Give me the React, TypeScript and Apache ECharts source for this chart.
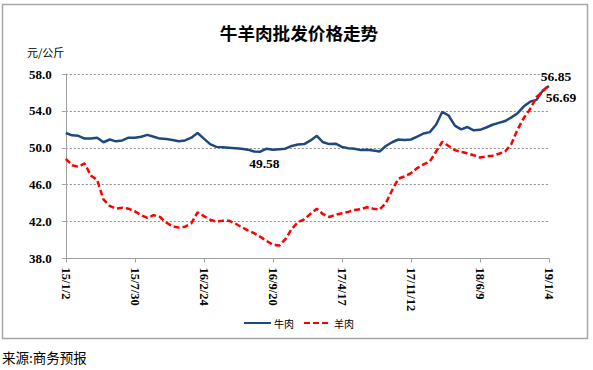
import React, { useEffect, useRef } from "react";
import * as echarts from "echarts";

const categories = [
  "15/1/2", "15/1/21", "15/2/9", "15/2/28", "15/3/19", "15/4/7", "15/4/26", "15/5/15", "15/6/3", "15/6/22", "15/7/11",
  "15/7/30", "15/8/18", "15/9/6", "15/9/25", "15/10/14", "15/11/2", "15/11/21", "15/12/10", "15/12/29", "16/1/17", "16/2/5",
  "16/2/24", "16/3/14", "16/4/2", "16/4/21", "16/5/10", "16/5/29", "16/6/17", "16/7/6", "16/7/25", "16/8/13", "16/9/1",
  "16/9/20", "16/10/9", "16/10/28", "16/11/16", "16/12/5", "16/12/24", "17/1/12", "17/1/31", "17/2/19", "17/3/10", "17/3/29",
  "17/4/17", "17/5/6", "17/5/25", "17/6/13", "17/7/2", "17/7/21", "17/8/9", "17/8/28", "17/9/16", "17/10/5", "17/10/24",
  "17/11/12", "17/12/1", "17/12/20", "18/1/8", "18/1/27", "18/2/15", "18/3/6", "18/3/25", "18/4/13", "18/5/2", "18/5/21",
  "18/6/9", "18/6/28", "18/7/17", "18/8/5", "18/8/24", "18/9/12", "18/10/1", "18/10/20", "18/11/8", "18/11/27", "18/12/16",
  "19/1/4",
];

const beef = [
  51.6, 51.35, 51.3, 51.0, 51.0, 51.1, 50.6, 50.9, 50.7, 50.8, 51.1,
  51.1, 51.2, 51.4, 51.2, 51.0, 50.95, 50.85, 50.7, 50.8, 51.1, 51.6,
  51.0, 50.4, 50.1, 50.05, 50.0, 49.95, 49.9, 49.8, 49.6, 49.58, 49.9,
  49.8, 49.85, 49.9, 50.2, 50.35, 50.4, 50.8, 51.3, 50.6, 50.4, 50.45,
  50.1, 49.95, 49.9, 49.75, 49.8, 49.7, 49.6, 50.2, 50.6, 50.9, 50.85,
  50.9, 51.2, 51.55, 51.7, 52.5, 53.9, 53.5, 52.4, 52.0, 52.25, 51.9,
  51.95, 52.2, 52.5, 52.7, 52.9, 53.3, 53.75, 54.5, 55.0, 55.2, 56.2,
  56.69,
];

const mutton = [
  48.8, 48.1, 47.95, 48.3, 47.0, 46.5, 44.4, 43.7, 43.4, 43.5, 43.4,
  43.1, 42.7, 42.4, 42.7, 42.5, 41.9, 41.5, 41.35, 41.45, 41.8, 43.0,
  42.6, 42.2, 42.0, 42.1, 42.1, 41.8, 41.4, 41.05, 40.75, 40.35, 39.9,
  39.5, 39.4, 40.1, 41.2, 41.95, 42.25, 42.85, 43.4, 42.8, 42.5, 42.75,
  42.9, 43.05, 43.25, 43.35, 43.55, 43.4, 43.3, 44.0, 45.4, 46.65, 46.9,
  47.25, 47.8, 48.2, 48.5, 49.6, 50.65, 50.2, 49.75, 49.55, 49.4, 49.2,
  48.95, 49.05, 49.15, 49.35, 49.6, 50.4, 52.0, 53.25, 54.2, 55.5, 56.1,
  56.85,
];

const seriesNames = ["牛肉", "羊肉"];
const titleText = "牛羊肉批发价格走势";
const unitText = "元/公斤";
const sourceText = "来源:商务预报";
const beefLabelIndex = 31;

export default function App() {
  const ref = useRef<HTMLDivElement>(null);
  useEffect(() => {
    if (!ref.current) return;
    const chart = echarts.init(ref.current, null, { renderer: "svg" });
    const serif = "'Liberation Serif', 'Times New Roman', serif";
    const cjk = "'Noto Sans CJK SC', sans-serif";
    const lastIdx = categories.length - 1;
    const valLabel = {
      show: true,
      fontFamily: serif,
      fontWeight: "bold" as const,
      fontSize: 13.5,
      color: "#000",
      formatter: (p: any) => Number(p.value).toFixed(2),
    };
    const markBase = {
      symbol: "circle",
      symbolSize: 2,
      silent: true,
      itemStyle: { color: "rgba(0,0,0,0)" },
      label: valLabel,
    };
    chart.setOption({
      animation: false,
      grid: { left: 65.8, right: 44, top: 74, bottom: 111.5 },
      legend: {
        data: seriesNames,
        left: 243,
        top: 318,
        padding: 0,
        itemWidth: 27,
        itemHeight: 10,
        itemGap: 9,
        itemStyle: { opacity: 0 },
        textStyle: { fontFamily: cjk, fontSize: 10, color: "#000", padding: [0, 0, 0, -2] },
      },
      xAxis: {
        type: "category",
        data: categories,
        boundaryGap: false,
        axisLine: { lineStyle: { color: "#a0a0a0", width: 1 } },
        axisTick: { show: true, interval: 10, length: 4, lineStyle: { color: "#a0a0a0" } },
        axisLabel: {
          interval: 10,
          rotate: -90,
          margin: 9,
          fontFamily: serif,
          fontWeight: "bold",
          fontSize: 12.5,
          color: "#000",
        },
        splitLine: { show: false },
      },
      yAxis: {
        type: "value",
        min: 38,
        max: 58,
        interval: 4,
        axisLine: { show: true, lineStyle: { color: "#a0a0a0", width: 1 } },
        axisTick: { show: true, length: 4, lineStyle: { color: "#a0a0a0" } },
        axisLabel: {
          margin: 14,
          fontFamily: serif,
          fontWeight: "bold",
          fontSize: 13,
          color: "#000",
          formatter: (v: number) => v.toFixed(1),
        },
        splitLine: { show: true, lineStyle: { color: "#8c8c8c", type: [2, 2], width: 1 } },
      },
      series: [
        {
          name: seriesNames[0],
          type: "line",
          data: beef,
          symbol: "none",
          showSymbol: false,
          lineStyle: { color: "#1F497D", width: 2.5 },
          itemStyle: { color: "#1F497D" },
          z: 3,
          markPoint: {
            ...markBase,
            data: [
              {
                coord: [categories[beefLabelIndex], beef[beefLabelIndex]],
                value: beef[beefLabelIndex],
                label: { position: "bottom", distance: 3.5, offset: [4, 0] },
              },
              {
                coord: [categories[lastIdx], beef[lastIdx]],
                value: beef[lastIdx],
                label: { position: "bottom", distance: 3, offset: [12, 0] },
              },
            ],
          },
        },
        {
          name: seriesNames[1],
          type: "line",
          data: mutton,
          symbol: "none",
          showSymbol: false,
          lineStyle: { color: "#FF0000", width: 2.5, type: [6, 3] },
          itemStyle: { color: "#FF0000" },
          z: 4,
          markPoint: {
            ...markBase,
            data: [
              {
                coord: [categories[lastIdx], mutton[lastIdx]],
                value: mutton[lastIdx],
                label: { position: "top", distance: 0, offset: [7, 0] },
              },
            ],
          },
        },
      ],
      graphic: [
        {
          type: "rect",
          shape: { x: 2.5, y: 4.5, width: 585, height: 334 },
          style: { fill: "none", stroke: "#a6a6a6", lineWidth: 1.5 },
          silent: true,
        },
        {
          type: "text",
          x: 299,
          y: 32,
          style: {
            text: titleText,
            fontFamily: cjk,
            fontSize: 17.6,
            fontWeight: "bold",
            fill: "#000",
            textAlign: "center",
            textVerticalAlign: "middle",
            align: "center",
            verticalAlign: "middle",
          },
        },
        {
          type: "text",
          x: 27,
          y: 52,
          style: {
            text: unitText,
            fontFamily: cjk,
            fontSize: 11,
            fill: "#000",
            textVerticalAlign: "middle",
            verticalAlign: "middle",
          },
        },
        {
          type: "text",
          x: 2,
          y: 357,
          style: {
            text: sourceText,
            fontFamily: cjk,
            fontSize: 13.5,
            fill: "#000",
            textVerticalAlign: "middle",
            verticalAlign: "middle",
          },
        },
      ],
    });
    return () => chart.dispose();
  }, []);
  return (
    <div
      ref={ref}
      style={{ position: "absolute", left: 0, top: 0, width: 593, height: 370, background: "#fff" }}
    />
  );
}
